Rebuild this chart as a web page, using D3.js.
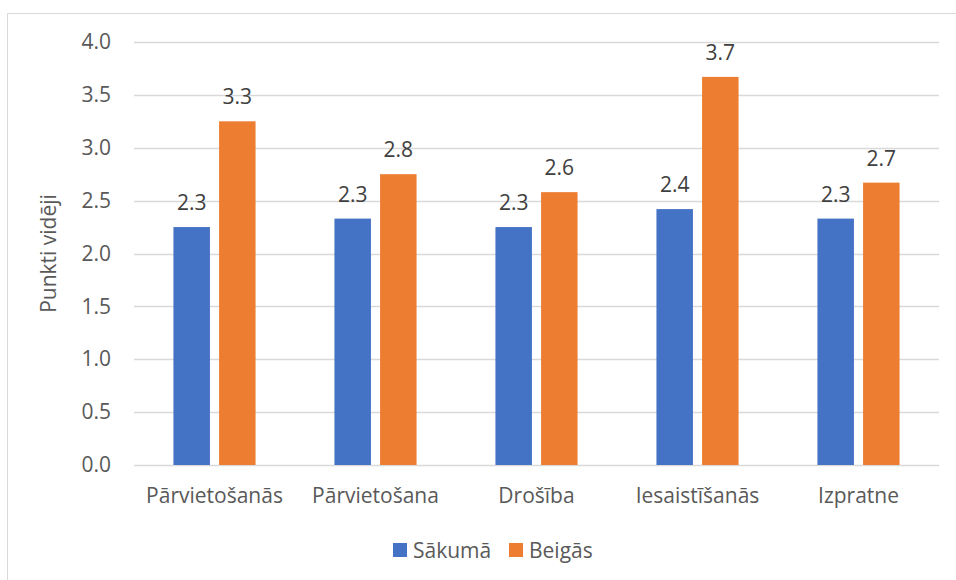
<!DOCTYPE html>
<html>
<head>
<meta charset="utf-8">
<script src="https://cdn.jsdelivr.net/npm/d3@7"></script>
<style>
  body { margin: 0; background: #fff; }
  text { font-family: "Open Sans", "Liberation Sans", sans-serif; }
</style>
</head>
<body>
<div id="chart"></div>
<script>
var categories = ["Pārvietošanās", "Pārvietošana", "Drošība", "Iesaistīšanās", "Izpratne"];
var seriesNames = ["Sākumā", "Beigās"];
var sakuma = [2.25, 2.33, 2.25, 2.42, 2.33];
var beigas = [3.25, 2.75, 2.58, 3.67, 2.67];
var yTicks = [0, 0.5, 1, 1.5, 2, 2.5, 3, 3.5, 4];
var colors = ["#4472c4", "#ed7d31"];

var W = 956, H = 580;
var margin = {top: 42, right: 17, bottom: 115, left: 134},
  width = W - margin.left - margin.right,
  height = H - margin.top - margin.bottom;
var fs = "21px";

var svg = d3.select("#chart")
  .append("svg")
  .attr("width", W)
  .attr("height", H);

// chart border
svg.append("rect")
  .attr("x", 7.5).attr("y", 13.5)
  .attr("width", W).attr("height", H)
  .attr("fill", "none")
  .attr("stroke", "#d9d9d9")
  .attr("stroke-width", 1);

var g = svg.append("g")
  .attr("transform", "translate(" + margin.left + "," + margin.top + ")");

var x0 = d3.scaleBand().domain(categories).range([0, width]).paddingInner(0).paddingOuter(0);
var y = d3.scaleLinear().domain([0, 4]).range([height, 0]);

var groupW = x0.bandwidth() * 0.51;
var x1 = d3.scaleBand().domain(seriesNames).range([0, groupW]).paddingInner(0.2);

// gridlines
g.selectAll(".grid")
  .data(yTicks)
  .enter().append("line")
    .attr("x1", 0).attr("x2", width)
    .attr("y1", function(d) { return Math.round(y(d)) + 0.5; })
    .attr("y2", function(d) { return Math.round(y(d)) + 0.5; })
    .attr("stroke", "#d9d9d9")
    .attr("stroke-width", 1.5);

// y axis
var yAxis = g.append("g")
  .call(d3.axisLeft(y).tickValues(yTicks).tickFormat(d3.format(".1f")).tickSize(0).tickPadding(23));
yAxis.select(".domain").remove();
yAxis.selectAll("text")
  .attr("fill", "#595959")
  .style("font-size", fs);

// x axis
var xAxis = g.append("g")
  .attr("transform", "translate(0," + height + ")")
  .call(d3.axisBottom(x0).tickSize(0).tickPadding(23));
xAxis.select(".domain").remove();
xAxis.selectAll("text")
  .attr("fill", "#595959")
  .style("font-size", fs);

// axis title
svg.append("text")
  .attr("transform", "translate(56," + (margin.top + height / 2) + ") rotate(-90)")
  .attr("text-anchor", "middle")
  .attr("fill", "#595959")
  .style("font-size", fs)
  .text("Punkti vidēji");

var series = [sakuma, beigas];

series.forEach(function(vals, si) {
  var grp = g.append("g");
  grp.selectAll("rect")
    .data(vals)
    .enter().append("rect")
      .attr("x", function(d, i) { return x0(categories[i]) + (x0.bandwidth() - groupW) / 2 + x1(seriesNames[si]); })
      .attr("y", function(d) { return y(d); })
      .attr("width", x1.bandwidth())
      .attr("height", function(d) { return height - y(d); })
      .attr("fill", colors[si]);

  grp.selectAll("text")
    .data(vals)
    .enter().append("text")
      .attr("x", function(d, i) { return x0(categories[i]) + (x0.bandwidth() - groupW) / 2 + x1(seriesNames[si]) + x1.bandwidth() / 2; })
      .attr("y", function(d) { return y(d) - 17; })
      .attr("text-anchor", "middle")
      .attr("fill", "#404040")
      .style("font-size", fs)
      .text(function(d) { return d3.format(".1f")(d); });
});

// legend
var legend = svg.append("g").attr("transform", "translate(393,550)");
var legendX = [0, 116];
seriesNames.forEach(function(name, i) {
  var lg = legend.append("g").attr("transform", "translate(" + legendX[i] + ",0)");
  lg.append("rect")
    .attr("x", 0).attr("y", -7)
    .attr("width", 14).attr("height", 14)
    .attr("fill", colors[i]);
  lg.append("text")
    .attr("x", 20).attr("y", 7.5)
    .attr("fill", "#595959")
    .style("font-size", fs)
    .text(name);
});
</script>
</body>
</html>
